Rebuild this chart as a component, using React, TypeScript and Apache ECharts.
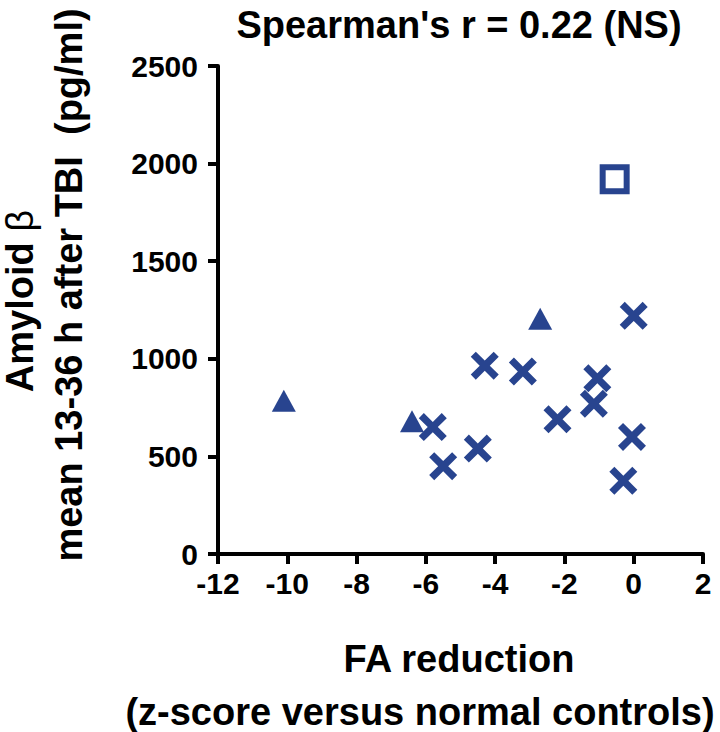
import React, { useEffect, useRef } from "react";
import * as echarts from "echarts";

const xTicks = [-12, -10, -8, -6, -4, -2, 0, 2];
const yTicks = [0, 500, 1000, 1500, 2000, 2500];

const crossX = [0.0, -4.3, -3.2, -1.05, -1.15, -2.2, -5.8, -4.5, -5.5, -0.05, -0.3];
const crossY = [1220, 965, 935, 900, 770, 690, 650, 540, 450, 600, 375];
const triX = [-10.1, -6.4, -2.7];
const triY = [785, 680, 1205];
const sqX = [-0.55];
const sqY = [1920];

const titleText = "Spearman's r = 0.22 (NS)";
const xName1 = "FA reduction";
const xName2 = "(z-score versus normal controls)";
const yName1 = "Amyloid ";
const yNameBeta = "β";
const yName2 = "mean 13-36 h after TBI  (pg/ml)";

const BLUE = "#28448f";
const FONT = "'Liberation Sans', Arial, Helvetica, sans-serif";
const CROSS = "path://M18 0 L50 32 L82 0 L100 18 L68 50 L100 82 L82 100 L50 68 L18 100 L0 82 L32 50 L0 18 Z";

const zip = (xs: number[], ys: number[]) => xs.map((x, i) => [x, ys[i]]);

export default function App() {
  const ref = useRef<HTMLDivElement>(null);
  useEffect(() => {
    document.body.style.margin = "0";
    const chart = echarts.init(ref.current!, null, { renderer: "svg" });
    const axisCommon = {
      axisLine: { show: true, onZero: false, lineStyle: { color: "#000", width: 4 } },
      axisTick: { show: true, inside: false, length: 10, lineStyle: { color: "#000", width: 4 } },
      splitLine: { show: false },
      axisLabel: {
        color: "#000",
        fontSize: 30,
        fontWeight: "bold",
        fontFamily: FONT,
        formatter: (v: number) => String(v),
      },
    };
    chart.setOption({
      animation: false,
      backgroundColor: "#fff",
      grid: { left: 218, right: 17, top: 66, bottom: 178 },
      xAxis: {
        type: "value",
        min: xTicks[0],
        max: xTicks[xTicks.length - 1],
        interval: 2,
        ...axisCommon,
        axisLabel: { ...axisCommon.axisLabel, margin: 14 },
      },
      yAxis: {
        type: "value",
        min: yTicks[0],
        max: yTicks[yTicks.length - 1],
        interval: 500,
        ...axisCommon,
        axisLabel: { ...axisCommon.axisLabel, margin: 20 },
      },
      series: [
        {
          type: "scatter",
          data: zip(crossX, crossY),
          symbol: CROSS,
          symbolSize: 28,
          itemStyle: { color: BLUE, opacity: 1 },
        },
        {
          type: "scatter",
          data: zip(triX, triY),
          symbol: "triangle",
          symbolSize: [24, 22],
          itemStyle: { color: BLUE, opacity: 1 },
        },
        {
          type: "scatter",
          data: zip(sqX, sqY),
          symbol: "rect",
          symbolSize: 24,
          itemStyle: { color: "#fff", borderColor: BLUE, borderWidth: 6, opacity: 1 },
        },
      ],
      graphic: [
        {
          type: "text",
          x: 459,
          y: 25,
          style: {
            text: titleText,
            font: `bold 38px ${FONT}`,
            fill: "#000",
            align: "center",
            verticalAlign: "middle",
          },
        },
        {
          type: "text",
          x: 459,
          y: 659,
          style: {
            text: xName1,
            font: `bold 38px ${FONT}`,
            fill: "#000",
            align: "center",
            verticalAlign: "middle",
          },
        },
        {
          type: "text",
          x: 420,
          y: 712,
          style: {
            text: xName2,
            font: `bold 38px ${FONT}`,
            fill: "#000",
            align: "center",
            verticalAlign: "middle",
          },
        },
        {
          type: "text",
          x: 20,
          y: 301,
          rotation: Math.PI / 2,
          style: {
            text: `{a|${yName1}}{b|${yNameBeta}}`,
            align: "center",
            verticalAlign: "middle",
            rich: {
              a: { font: `bold 38px ${FONT}`, fill: "#000", color: "#000" },
              b: { font: `normal 38px ${FONT}`, fill: "#000", color: "#000" },
            },
          },
        },
        {
          type: "text",
          x: 69,
          y: 285,
          rotation: Math.PI / 2,
          style: {
            text: yName2,
            font: `bold 38px ${FONT}`,
            fill: "#000",
            align: "center",
            verticalAlign: "middle",
          },
        },
      ],
    });
    return () => chart.dispose();
  }, []);
  return (
    <div
      ref={ref}
      style={{ width: 720, height: 732, position: "fixed", left: 0, top: 0 }}
    />
  );
}
